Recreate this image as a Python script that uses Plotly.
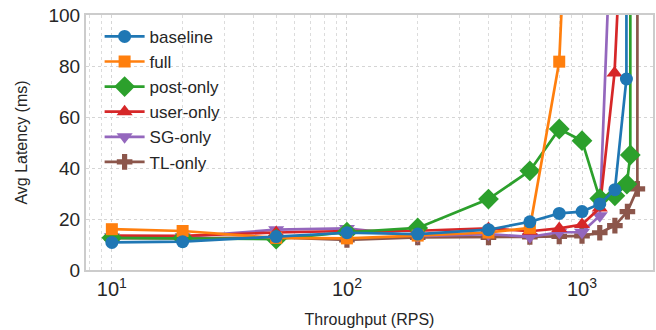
import plotly.graph_objects as go

# ---- data ----
baseline_x = [10, 20, 50, 100, 200, 400, 600, 800, 1000, 1190, 1380, 1545, 1555]
baseline_y = [10.8, 11.1, 13.1, 14.6, 14.1, 15.8, 18.9, 22.2, 22.9, 25.9, 31.5, 74.9, 1500]

full_x = [10, 20, 50, 100, 200, 400, 600, 800, 1000]
full_y = [16.0, 15.3, 12.6, 12.4, 13.5, 14.7, 16.5, 81.7, 280]

post_x = [10, 20, 50, 100, 200, 400, 600, 800, 1000, 1190, 1380, 1552, 1605, 1612]
post_y = [12.6, 12.5, 12.1, 14.8, 16.5, 27.8, 38.9, 55.3, 50.7, 28.0, 29.1, 33.7, 45.1, 1500]

user_x = [10, 20, 50, 100, 200, 400, 600, 800, 1000, 1190, 1375, 1500]
user_y = [13.5, 13.4, 14.7, 15.3, 15.4, 16.3, 15.2, 16.3, 17.8, 24.3, 77.3, 150]

sg_x = [10, 20, 50, 100, 200, 400, 600, 800, 1000, 1190, 1400]
sg_y = [13.0, 13.0, 15.8, 16.3, 13.3, 14.1, 13.0, 14.8, 14.8, 21.3, 190]

tl_x = [10, 20, 50, 100, 200, 400, 600, 800, 1000, 1190, 1380, 1560, 1720, 1730]
tl_y = [12.5, 12.4, 12.8, 11.8, 12.8, 12.8, 13.0, 13.2, 13.4, 14.6, 17.4, 22.9, 31.8, 1500]

series = [
    ("baseline", baseline_x, baseline_y, "#1f77b4", "circle", 13),
    ("full", full_x, full_y, "#ff7f0e", "square", 12),
    ("post-only", post_x, post_y, "#2ca02c", "diamond", 16),
    ("user-only", user_x, user_y, "#d62728", "triangle-up", 14),
    ("SG-only", sg_x, sg_y, "#9467bd", "triangle-down", 14),
    ("TL-only", tl_x, tl_y, "#8c564b", "cross", 13),
]

x_tickvals = [10, 100, 1000]
x_ticktext = ["10<sup>1</sup>", "10<sup>2</sup>", "10<sup>3</sup>"]
y_tickvals = [0, 20, 40, 60, 80, 100]

fig = go.Figure()
for rank, (name, xs, ys, color, symbol, size) in reversed(list(enumerate(series))):
    fig.add_trace(go.Scatter(
        x=xs, y=ys, name=name, mode="lines+markers",
        line=dict(color=color, width=2.7),
        marker=dict(color=color, symbol=symbol, size=size, line=dict(width=0)),
        legendrank=rank + 1,
        cliponaxis=True,
    ))

minor_vals = [m * 10 ** d for d in range(0, 4) for m in range(2, 10)]

fig.update_layout(
    width=656, height=330,
    margin=dict(l=86, r=3, t=15, b=60),
    paper_bgcolor="white", plot_bgcolor="white",
    font=dict(family="Liberation Sans, Arial, sans-serif", color="#262626"),
    showlegend=True,
    legend=dict(
        x=0.024, y=0.985, xanchor="left", yanchor="top",
        bgcolor="rgba(255,255,255,0)", borderwidth=0,
        font=dict(size=17, color="#262626"),
        itemwidth=40,
    ),
    xaxis=dict(
        type="log", range=[0.89, 3.302], automargin=False,
        tickvals=x_tickvals, ticktext=x_ticktext,
        tickfont=dict(size=20, color="#262626"),
        showgrid=True, gridcolor="#d5d5d5", griddash="dot", gridwidth=1,
        minor=dict(tickvals=minor_vals, showgrid=True, gridcolor="#dcdcdc",
                   griddash="dot", gridwidth=1, ticks=""),
        showline=True, linecolor="#cccccc", linewidth=2, mirror=True,
        ticks="", zeroline=False,
        title=dict(text="Throughput (RPS)", font=dict(size=16, color="#262626"), standoff=15),
    ),
    yaxis=dict(
        range=[0, 100], automargin=False,
        tickvals=y_tickvals,
        tickfont=dict(size=19, color="#262626"),
        showgrid=True, gridcolor="#d5d5d5", griddash="dot", gridwidth=1,
        showline=True, linecolor="#cccccc", linewidth=2, mirror=True,
        ticks="", zeroline=False,
        title=dict(text="Avg Latency (ms)", font=dict(size=16, color="#262626"), standoff=17),
    ),
)

fig.write_html("out.html", config={"displayModeBar": False},
               post_script="document.body.style.margin='0';")
